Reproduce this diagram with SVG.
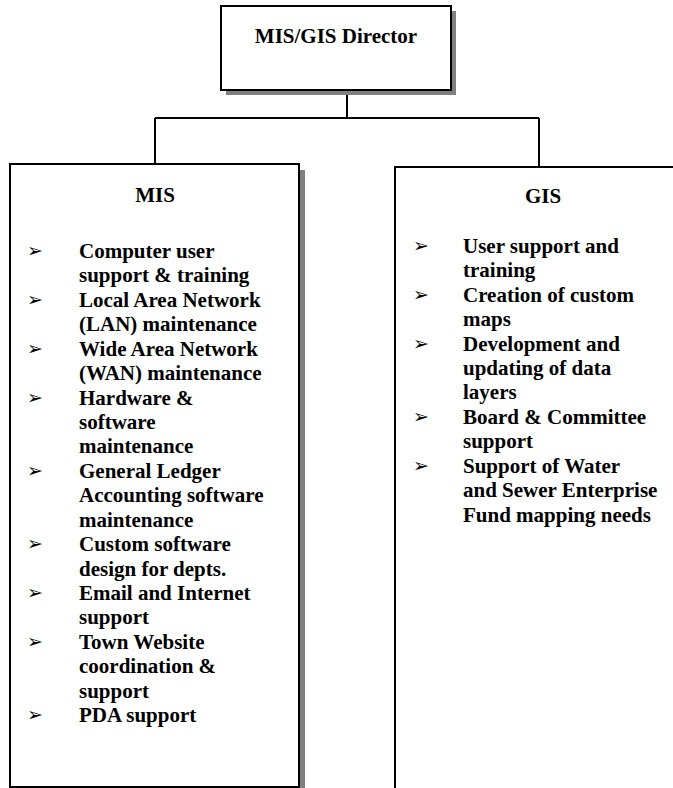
<svg xmlns="http://www.w3.org/2000/svg" width="673" height="788" viewBox="0 0 673 788">
<style>
.box{fill:#fff;stroke:#000;stroke-width:2}
.shadow{fill:#808080}
.t{font-family:"Liberation Serif","Times New Roman",serif;font-weight:bold;font-size:21px;fill:#000}
.b{font-family:"DejaVu Sans",sans-serif;font-size:19px;fill:#000}
.conn{stroke:#000;stroke-width:2;fill:none}
</style>
<rect width="673" height="788" fill="#fff"/>
<g id="connectors">
<path class="conn" d="M347 95V118M155 118H539M155 118V164M539 118V167"/>
</g>
<g id="director">
<rect class="shadow" x="226" y="11" width="230" height="84"/>
<rect class="box" x="221" y="6" width="230" height="84"/>
<text class="t" x="336" y="43" text-anchor="middle">MIS/GIS Director</text>
</g>
<g id="mis">
<rect class="shadow" x="300" y="170" width="5" height="630"/>
<rect class="box" x="10" y="164" width="289" height="623"/>
<text class="t" x="155" y="202" text-anchor="middle">MIS</text>
<g class="b">
<text x="27" y="257">➢</text>
<text x="27" y="306">➢</text>
<text x="27" y="355">➢</text>
<text x="27" y="404">➢</text>
<text x="27" y="477">➢</text>
<text x="27" y="550">➢</text>
<text x="27" y="599">➢</text>
<text x="27" y="648">➢</text>
<text x="27" y="721">➢</text>
</g>
<g class="t">
<text x="79" y="258">Computer user</text>
<text x="79" y="282">support &amp; training</text>
<text x="79" y="307">Local Area Network</text>
<text x="79" y="331">(LAN) maintenance</text>
<text x="79" y="356">Wide Area Network</text>
<text x="79" y="380">(WAN) maintenance</text>
<text x="79" y="405">Hardware &amp;</text>
<text x="79" y="429">software</text>
<text x="79" y="453">maintenance</text>
<text x="79" y="478">General Ledger</text>
<text x="79" y="502">Accounting software</text>
<text x="79" y="527">maintenance</text>
<text x="79" y="551">Custom software</text>
<text x="79" y="576">design for depts.</text>
<text x="79" y="600">Email and Internet</text>
<text x="79" y="624">support</text>
<text x="79" y="649">Town Website</text>
<text x="79" y="673">coordination &amp;</text>
<text x="79" y="698">support</text>
<text x="79" y="722">PDA support</text>
</g>
</g>
<g id="gis">
<rect class="box" x="395" y="167" width="320" height="640"/>
<text class="t" x="543" y="203" text-anchor="middle">GIS</text>
<g class="b">
<text x="413" y="252">➢</text>
<text x="413" y="301">➢</text>
<text x="413" y="350">➢</text>
<text x="413" y="423">➢</text>
<text x="413" y="472">➢</text>
</g>
<g class="t">
<text x="463" y="253">User support and</text>
<text x="463" y="277">training</text>
<text x="463" y="302">Creation of custom</text>
<text x="463" y="326">maps</text>
<text x="463" y="351">Development and</text>
<text x="463" y="375">updating of data</text>
<text x="463" y="399">layers</text>
<text x="463" y="424">Board &amp; Committee</text>
<text x="463" y="448">support</text>
<text x="463" y="473">Support of Water</text>
<text x="463" y="497">and Sewer Enterprise</text>
<text x="463" y="522">Fund mapping needs</text>
</g>
</g>
</svg>
